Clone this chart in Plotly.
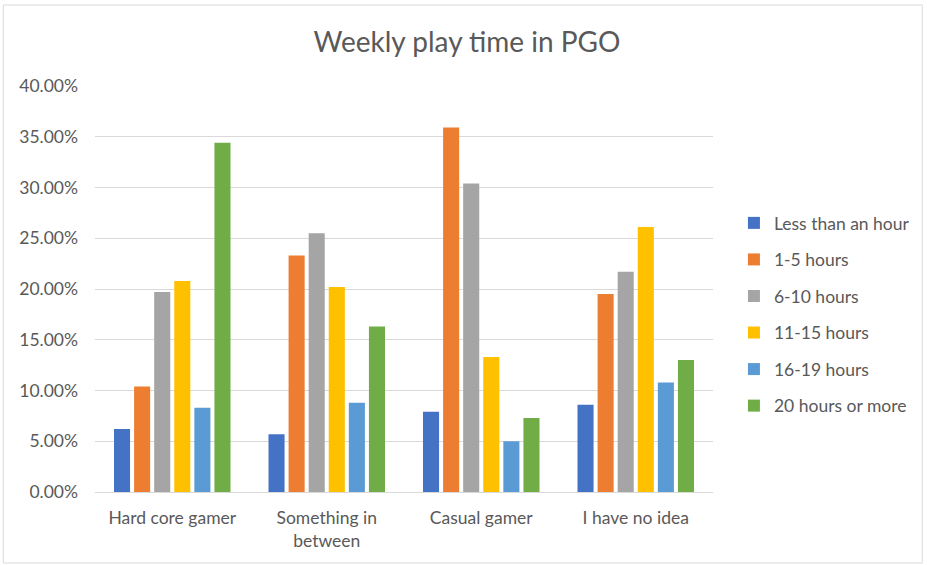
import plotly.graph_objects as go

categories = ["Hard core gamer", "Something in<br>between", "Casual gamer", "I have no idea"]
series_names = ["Less than an hour", "1-5 hours", "6-10 hours", "11-15 hours", "16-19 hours", "20 hours or more"]
less_than_hour = [0.062, 0.057, 0.079, 0.086]
h1_5 = [0.104, 0.233, 0.359, 0.195]
h6_10 = [0.197, 0.255, 0.304, 0.217]
h11_15 = [0.208, 0.202, 0.133, 0.261]
h16_19 = [0.083, 0.088, 0.050, 0.108]
h20_plus = [0.344, 0.163, 0.073, 0.130]
y_ticks = [0, 0.05, 0.10, 0.15, 0.20, 0.25, 0.30, 0.35, 0.40]

series_values = [less_than_hour, h1_5, h6_10, h11_15, h16_19, h20_plus]
colors = ["#4472C4", "#ED7D31", "#A5A5A5", "#FFC000", "#5B9BD5", "#70AD47"]

W, H = 927, 565
L, R, T, B = 95, 212, 86, 73
pw, ph = W - L - R, H - T - B

fig = go.Figure()
for i, (name, vals) in enumerate(zip(series_names, series_values)):
    fig.add_trace(go.Bar(x=categories, y=vals, name=name, marker_color=colors[i],
                         marker_line_width=0, legendgroup=f"g{i}"))

def px_x(p):
    return (p - L) / pw

def px_y(p):
    return (H - B - p) / ph

fig.update_layout(
    width=W, height=H,
    margin=dict(l=L, r=R, t=T, b=B),
    paper_bgcolor="white", plot_bgcolor="white",
    font=dict(family="Lato, 'Open Sans', sans-serif", color="#595959", size=17),
    title=dict(text="Weekly play time in PGO", x=467 / W, xanchor="center", xref="container",
               y=1 - 42 / H, yanchor="middle", font=dict(size=28, color="#595959")),
    barmode="group", bargap=0.22, bargroupgap=0.2,
    showlegend=True,
    legend=dict(x=1 + (736 - (L + pw)) / pw, xanchor="left", y=px_y(205), yanchor="top",
                font=dict(size=17.5, color="#595959"), tracegroupgap=10.8,
                itemwidth=30, bgcolor="rgba(0,0,0,0)"),
    xaxis=dict(showgrid=False, showline=True, linecolor="#D9D9D9", linewidth=1,
               tickfont=dict(size=17.5, color="#595959"), ticks="", ticklabelstandoff=10),
    yaxis=dict(range=[0, 0.4], tickvals=y_ticks, tickformat=".2%", showgrid=True,
               gridcolor="#D9D9D9", gridwidth=1, zeroline=False, showline=False,
               tickfont=dict(size=17.5, color="#595959"), ticks="", ticklabelstandoff=16),
    shapes=[dict(type="rect", xref="paper", yref="paper",
                 x0=px_x(3), x1=px_x(925), y0=px_y(563), y1=px_y(5),
                 line=dict(color="#D9D9D9", width=1), fillcolor="rgba(0,0,0,0)", layer="below")],
)

fig.write_html("out.html")
